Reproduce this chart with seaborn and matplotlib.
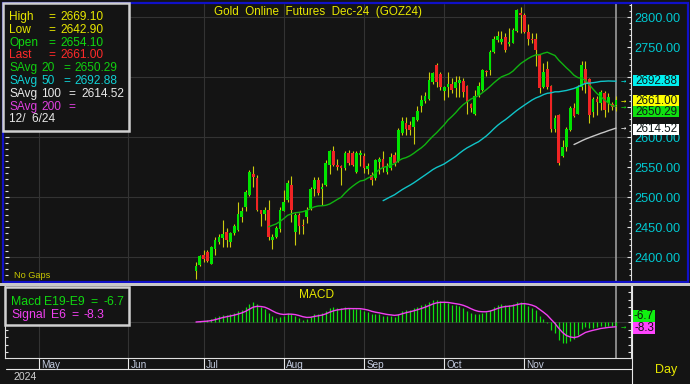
import numpy as np
import pandas as pd
import matplotlib
matplotlib.use("Agg")
import matplotlib.pyplot as plt
import seaborn as sns
from matplotlib.patches import Rectangle
from matplotlib.lines import Line2D
from matplotlib.ticker import FixedLocator, MultipleLocator, FuncFormatter

# ---------------- data ----------------
opens = [2377, 2387, 2404, 2408, 2389, 2414, 2425, 2431, 2442, 2425,
         2440, 2445, 2466, 2484, 2503, 2539, 2531, 2478, 2472, 2479,
         2428, 2433, 2446, 2477, 2495, 2520, 2442, 2470, 2453, 2466,
         2481, 2514, 2528, 2513, 2520, 2553, 2577, 2553, 2552, 2548,
         2574, 2573, 2542, 2570, 2568, 2546, 2537, 2531, 2559, 2563,
         2542, 2548, 2570, 2560, 2607, 2624, 2620, 2617, 2628, 2651,
         2660, 2663, 2692, 2720, 2705, 2677, 2683, 2689, 2681, 2690,
         2694, 2685, 2655, 2639, 2670, 2678, 2710, 2712, 2742, 2762,
         2759, 2767, 2755, 2757, 2776, 2806, 2803, 2775, 2764, 2763,
         2737, 2683, 2714, 2685, 2613, 2637, 2568, 2584, 2612, 2649,
         2639, 2684, 2714, 2696, 2641, 2663, 2657, 2674, 2656, 2655,
         2654.1]
highs = [2392, 2403, 2412, 2412, 2418, 2434, 2438, 2462, 2449, 2442,
         2455, 2492, 2484, 2512, 2545, 2552, 2537, 2479, 2484, 2495,
         2439, 2452, 2484, 2512, 2528, 2535, 2473, 2473, 2464, 2484,
         2517, 2534, 2534, 2523, 2562, 2579, 2585, 2564, 2553, 2577,
         2578, 2577, 2577, 2578, 2574, 2556, 2541, 2564, 2567, 2576,
         2556, 2573, 2575, 2615, 2633, 2633, 2626, 2634, 2651, 2670,
         2675, 2709, 2709, 2723, 2709, 2685, 2709, 2698, 2702, 2702,
         2698, 2687, 2656, 2679, 2692, 2714, 2712, 2745, 2768, 2776,
         2777, 2773, 2781, 2781, 2814, 2816, 2806, 2788, 2773, 2774,
         2739, 2723, 2726, 2686, 2637, 2639, 2595, 2617, 2651, 2656,
         2687, 2726, 2726, 2698, 2667, 2668, 2678, 2676, 2673, 2659,
         2669.1]
lows = [2364, 2385, 2391, 2391, 2388, 2403, 2422, 2417, 2417, 2416,
        2437, 2444, 2459, 2476, 2501, 2517, 2476, 2452, 2462, 2428,
        2414, 2431, 2442, 2476, 2492, 2458, 2420, 2439, 2439, 2456,
        2478, 2501, 2503, 2487, 2518, 2539, 2551, 2545, 2520, 2545,
        2553, 2551, 2540, 2551, 2540, 2539, 2520, 2529, 2539, 2542,
        2538, 2545, 2552, 2558, 2603, 2603, 2603, 2588, 2626, 2642,
        2656, 2662, 2689, 2684, 2678, 2662, 2667, 2673, 2667, 2667,
        2667, 2639, 2642, 2637, 2667, 2676, 2701, 2703, 2740, 2759,
        2755, 2742, 2751, 2756, 2775, 2773, 2773, 2753, 2756, 2718,
        2673, 2681, 2680, 2609, 2609, 2553, 2567, 2576, 2610, 2634,
        2639, 2678, 2673, 2623, 2634, 2637, 2645, 2633, 2642, 2645,
        2642.9]
closes = [2385, 2401, 2397, 2394, 2416, 2428, 2434, 2438, 2428, 2440,
          2451, 2472, 2477, 2509, 2541, 2533, 2478, 2472, 2478, 2434,
          2434, 2449, 2479, 2491, 2524, 2478, 2470, 2451, 2451, 2479,
          2514, 2529, 2507, 2516, 2556, 2576, 2553, 2550, 2548, 2574,
          2557, 2554, 2573, 2573, 2548, 2552, 2529, 2562, 2564, 2548,
          2552, 2567, 2556, 2612, 2627, 2613, 2612, 2633, 2644, 2662,
          2668, 2695, 2706, 2691, 2683, 2683, 2688, 2678, 2692, 2695,
          2675, 2659, 2649, 2668, 2685, 2712, 2709, 2742, 2764, 2768,
          2763, 2745, 2758, 2779, 2812, 2803, 2775, 2763, 2762, 2745,
          2681, 2709, 2683, 2613, 2631, 2556, 2584, 2614, 2648, 2635,
          2684, 2720, 2689, 2637, 2663, 2659, 2675, 2645, 2666, 2650,
          2661.0]

month_labels = ["May", "Jun", "Jul", "Aug", "Sep", "Oct", "Nov"]
month_bar_pos = [-41.1, -17.7, 2.1, 23.1, 44.1, 65.0, 85.9]   # in bar-index units
price_ticks = [2400, 2450, 2500, 2550, 2600, 2650, 2700, 2750, 2800]
hidden_tick_labels = [2650, 2700]          # covered by the value flags
price_grid = [2400, 2500, 2600, 2700, 2800]

title_text = "Gold  Online  Futures  Dec-24  (GOZ24)"
info_names = ["High", "Low", "Open", "Last", "SAvg", "SAvg", "SAvg", "SAvg"]
info_periods = ["", "", "", "", "20", "50", "100", "200"]
info_values = ["2669.10", "2642.90", "2654.10", "2661.00",
               "2650.29", "2692.88", "2614.52", ""]
info_date = "12/  6/24"
last_labels = ["2692.88", "2661.00", "2650.29", "2614.52"]
last_label_prices = [2692.88, 2661.00, 2650.29, 2614.52]
macd_names = ["Macd", "Signal"]
macd_params = ["E19-E9", "E6"]
macd_values = ["-6.7", "-8.3"]

# ---------------- styling ----------------
BG = "#141414"
GRID = "#333333"
UP = "#00e400"
DOWN = "#f02424"
WICK = "#cccc10"
C20 = "#10b410"
C50 = "#10c4c8"
C100 = "#c8c8c8"
CYAN = "#00c8d0"
YEL = "#e8e800"
MAG = "#f040f0"

sns.set_theme(style="dark")
plt.rcParams["font.family"] = ["Liberation Sans", "DejaVu Sans"]

W, H = 690, 384
fig = plt.figure(figsize=(6.9, 3.84), dpi=100, facecolor=BG)


def fx(px):
    return px / W


def fy(py):
    return 1 - py / H


def ftext(px, py, s, color, size, ha="left", va="baseline", **kw):
    fig.text(fx(px), fy(py), s, color=color, fontsize=size, ha=ha, va=va, **kw)


df = pd.DataFrame({"idx": np.arange(len(closes)), "open": opens, "high": highs,
                   "low": lows, "close": closes})
df["sma20"] = df["close"].rolling(20).mean()
df["sma50"] = df["close"].rolling(50).mean()
df["sma100"] = df["close"].rolling(100).mean()
ema9 = df["close"].ewm(span=9, adjust=False).mean()
ema19 = df["close"].ewm(span=19, adjust=False).mean()
df["macd"] = ema9 - ema19
df["signal"] = df["macd"].ewm(span=6, adjust=False).mean()

XMIN, XMAX = -50.03, 113.93
last_i = df["idx"].iloc[-1]

# ---------------- main price panel ----------------
ax = fig.add_axes([fx(5), fy(281), fx(631) - fx(5), (281 - 4) / H])
ax.set_facecolor(BG)
ax.set_xlim(XMIN, XMAX)
ax.set_ylim(2360, 2821.67)
for p in price_grid:
    ax.axhline(p, color=GRID, lw=0.8, zorder=0)
for m in month_bar_pos:
    ax.axvline(m, color=GRID, lw=0.8, zorder=0)

ax.axvline(last_i, color="#a8a8a8", lw=1.1, zorder=1)

up = df["close"] >= df["open"]
ax.vlines(df["idx"], df["low"], df["high"], color=WICK, lw=0.8, zorder=2)
body_h = (df["close"] - df["open"]).abs().clip(lower=0.9)
body_b = df[["open", "close"]].min(axis=1)
ax.bar(df["idx"], body_h, bottom=body_b, width=0.7,
       color=np.where(up, UP, DOWN), linewidth=0, zorder=3)

for col, c in [("sma20", C20), ("sma50", C50), ("sma100", C100)]:
    sub = df.dropna(subset=[col])
    sns.lineplot(data=sub, x="idx", y=col, ax=ax, color=c, lw=1.0,
                 estimator=None, sort=False, zorder=4)

ax.set_xlabel("")
ax.set_ylabel("")
ax.set_xticks([])
ax.yaxis.set_major_locator(FixedLocator(price_ticks))
ax.yaxis.set_minor_locator(MultipleLocator(10))
ax.yaxis.set_major_formatter(FuncFormatter(
    lambda v, p: "" if round(v) in hidden_tick_labels else f"{v:.2f}"))
ax.tick_params(axis="y", which="both", direction="in", left=True, right=True,
               labelleft=False, labelright=True, color="#e0e0e0", width=0.8)
ax.tick_params(axis="y", which="major", length=3.2, pad=2.2,
               labelcolor=CYAN, labelsize=9.2)
ax.tick_params(axis="y", which="minor", length=1.8)
for s in ["top", "bottom", "left"]:
    ax.spines[s].set_visible(False)
ax.spines["right"].set_color("#e0e0e0")
ax.spines["right"].set_linewidth(0.8)
ax.grid(False)

# ---------------- MACD panel ----------------
ax2 = fig.add_axes([fx(5), fy(358), fx(631) - fx(5), (358 - 286) / H])
ax2.set_facecolor(BG)
ax2.set_xlim(XMIN, XMAX)
M = df["macd"].abs().max() * 36 / 22
ax2.set_ylim(-M, M)
ax2.axhline(0, color=GRID, lw=0.8, zorder=0)
for m in month_bar_pos:
    ax2.axvline(m, color=GRID, lw=0.8, zorder=0)
ax2.axvline(last_i, color="#a8a8a8", lw=1.1, zorder=1)
ax2.vlines(df["idx"], 0, df["macd"], color="#10e010", lw=0.9, zorder=2)
sns.lineplot(data=df, x="idx", y="signal", ax=ax2, color=MAG, lw=1.0,
             estimator=None, sort=False, zorder=3)
ax2.set_xlabel("")
ax2.set_ylabel("")
ax2.set_xticks([])
ax2.yaxis.set_major_locator(MultipleLocator(M * 7.5 / 36))
ax2.tick_params(axis="y", which="major", direction="in", left=True, right=True,
                labelleft=False, labelright=False, color="#e0e0e0",
                length=2.4, width=0.8)
ax2.spines["top"].set_visible(False)
for s in ["bottom", "left", "right"]:
    ax2.spines[s].set_color("#e0e0e0")
    ax2.spines[s].set_linewidth(0.8)
ax2.grid(False)

# ---------------- frames ----------------
fig.patches.append(Rectangle((fx(2.5), fy(282)), fx(685), 279.5 / H,
                             transform=fig.transFigure, fill=False,
                             edgecolor="#1010c8", lw=1.6, zorder=5))
fig.patches.append(Rectangle((fx(0), fy(285.5)), 1, 3 / H,
                             transform=fig.transFigure, facecolor="#c8c8c8",
                             edgecolor="none", zorder=5))
# date band lines
fig.lines.append(Line2D([fx(6), fx(632)], [fy(369), fy(369)],
                        transform=fig.transFigure, color="#e8e8e8", lw=0.8))
fig.lines.append(Line2D([fx(632), fx(632)], [fy(285), fy(384)],
                        transform=fig.transFigure, color="#e8e8e8", lw=0.8))
to_px = lambda i: 5 + (i - XMIN) / (XMAX - XMIN) * 626
for lab, m in zip(month_labels, month_bar_pos):
    px = to_px(m)
    fig.lines.append(Line2D([fx(px), fx(px)], [fy(358), fy(369)],
                            transform=fig.transFigure, color="#e8e8e8", lw=0.8))
    ftext(px + 2, 359.5, lab, "#c4cce0", 7.2, va="top")
ftext(14, 379.5, "2024", "#d0d0d0", 7.6)
ftext(655, 373, "Day", YEL, 9)
ftext(14, 277.5, "No Gaps", "#c8c800", 6.6)

# titles
ftext(318, 15.5, title_text, YEL, 8.4, ha="center")
ftext(317, 298, "MACD", YEL, 8.6, ha="center")

# ---------------- info box ----------------
fig.patches.append(Rectangle((fx(3.5), fy(131)), fx(125.5), 128 / H,
                             transform=fig.transFigure, facecolor=BG,
                             edgecolor="#d0d0d0", lw=1.8, zorder=6))
info_colors = [YEL, YEL, "#10d810", "#ff2a2a", "#10d010", "#10d0d4",
               "#e8e8e8", "#e040e0"]
for k in range(len(info_names)):
    yb = 20 + 12.8 * k
    c = info_colors[k]
    ftext(9, yb, info_names[k], c, 8.6, zorder=7)
    if info_periods[k] == "":
        ftext(48, yb, "=", c, 8.6, zorder=7)
        ftext(60, yb, info_values[k], c, 8.6, zorder=7)
    else:
        ftext(41, yb, info_periods[k], c, 8.6, zorder=7)
        ex = 63 if len(info_periods[k]) == 2 else 68
        vx = 74 if len(info_periods[k]) == 2 else 81
        ftext(ex, yb, "=", c, 8.6, zorder=7)
        ftext(vx, yb, info_values[k], c, 8.6, zorder=7)
ftext(9, 20 + 12.8 * 8, info_date, "#e8e8e8", 8.6, zorder=7)

# ---------------- MACD legend box ----------------
fig.patches.append(Rectangle((fx(4.5), fy(325)), fx(124), 38 / H,
                             transform=fig.transFigure, facecolor=BG,
                             edgecolor="#d0d0d0", lw=1.8, zorder=6))
mcols = ["#10d810", MAG]
name_x = [11, 11]
par_x = [44, 51]
eq_x = [90, 71]
val_x = [103, 83]
for k in range(2):
    yb = 305 + 13 * k
    ftext(name_x[k], yb, macd_names[k], mcols[k], 8.8, zorder=7)
    ftext(par_x[k], yb, macd_params[k], mcols[k], 8.8, zorder=7)
    ftext(eq_x[k], yb, "=", mcols[k], 8.8, zorder=7)
    ftext(val_x[k], yb, macd_values[k], mcols[k], 8.8, zorder=7)

# ---------------- right-side value flags ----------------
flag_colors = ["#00f0f0", "#ffff00", "#10e010", "#ffffff"]
flag_centers = [80.5, 100.5, 111.5, 129]
price_to_py = lambda p: 17 + (2800 - p) * 0.6
for lab, p, c, yc in zip(last_labels, last_label_prices, flag_colors, flag_centers):
    fig.patches.append(Rectangle((fx(633), fy(yc + 5.5)), fx(46), 11 / H,
                                 transform=fig.transFigure, facecolor=c,
                                 edgecolor="none", zorder=6))
    ftext(656, yc + 0.5, lab, "#101818", 8.4, ha="center", va="center",
          zorder=7)
    ftext(623, price_to_py(p), "→", c, 4.6, ha="center", va="center",
          family="DejaVu Sans", zorder=7)

mflag_colors = ["#10f010", "#ff44ff"]
mflag_centers = [315.5, 327.5]
for lab, c, yc in zip(macd_values, mflag_colors, mflag_centers):
    fig.patches.append(Rectangle((fx(633), fy(yc + 6)), fx(22), 12 / H,
                                 transform=fig.transFigure, facecolor=c,
                                 edgecolor="none", zorder=6))
    ftext(644, yc + 0.5, lab, "#101010", 8.4, ha="center", va="center",
          zorder=7)
ftext(623, 327, "→", "#10e010", 4.6, ha="center", va="center",
      family="DejaVu Sans", zorder=7)

fig.savefig("out.png", dpi=100, facecolor=BG)
